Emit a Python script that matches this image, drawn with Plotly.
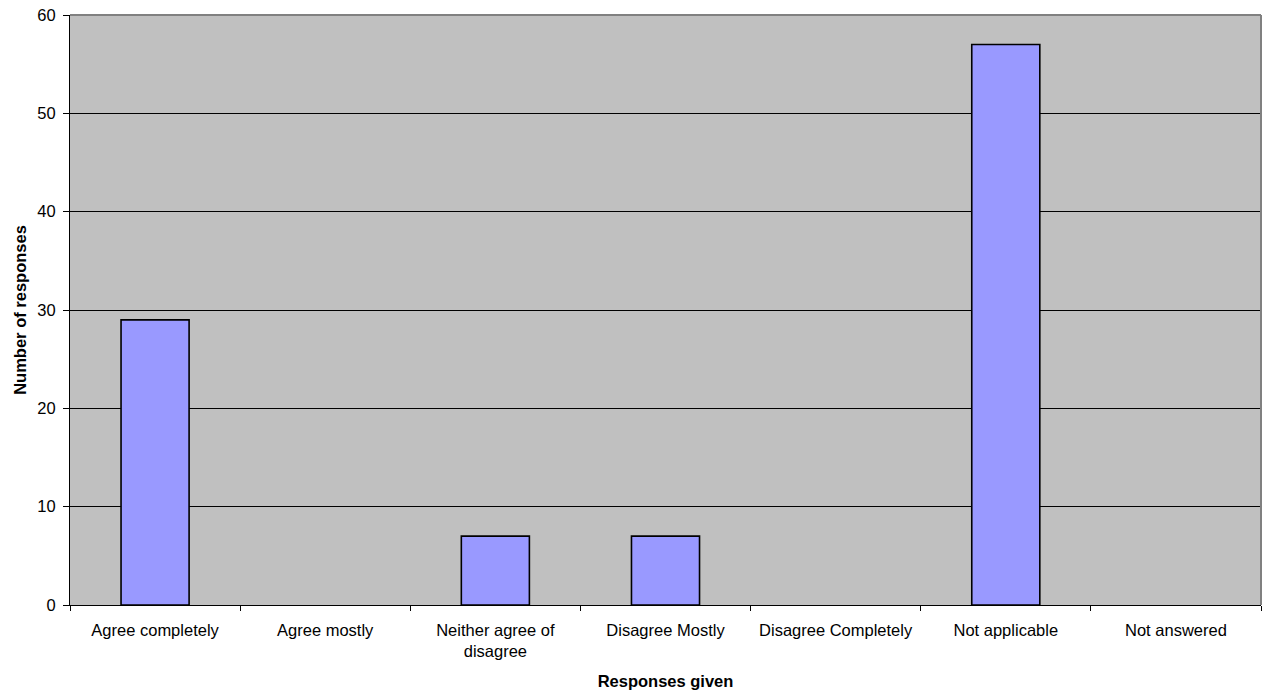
import plotly.graph_objects as go

categories = ["Agree completely", "Agree mostly", "Neither agree of<br>disagree",
              "Disagree Mostly", "Disagree Completely", "Not applicable", "Not answered"]
responses = [29, 0, 7, 7, 0, 57, 0]
y_ticks = [0, 10, 20, 30, 40, 50, 60]

FONT = "Liberation Sans, Arial, sans-serif"

# empty categories get no outline so they leave no mark on the baseline
outline_widths = [1.6 if v > 0 else 0 for v in responses]

fig = go.Figure(
    go.Bar(
        x=categories,
        y=responses,
        width=0.4,
        marker=dict(color="#9999FF", line=dict(color="black", width=outline_widths)),
    )
)

fig.update_layout(
    width=1267,
    height=693,
    margin=dict(l=70, r=6, t=15, b=88),
    paper_bgcolor="white",
    plot_bgcolor="#C0C0C0",
    font=dict(family=FONT, size=16.5, color="black"),
    showlegend=False,
    bargap=0.6,
)

fig.update_xaxes(
    type="category",
    showline=True,
    linecolor="black",
    linewidth=1,
    ticks="outside",
    tickson="boundaries",
    ticklen=5,
    tickcolor="black",
    showgrid=False,
    ticklabelstandoff=10,
    title=dict(text="<b>Responses given</b>", standoff=16, font=dict(size=16.5)),
)

fig.update_yaxes(
    range=[0, 60],
    tickvals=y_ticks,
    showline=True,
    linecolor="black",
    linewidth=1,
    ticks="outside",
    ticklen=6,
    tickcolor="black",
    showgrid=True,
    gridcolor="black",
    gridwidth=1,
    zeroline=False,
    ticklabelstandoff=4,
    title=dict(text="<b>Number of responses</b>", standoff=6, font=dict(size=16.5)),
)

# grey frame along top and right of the plotting area
fig.add_shape(type="line", xref="paper", yref="paper", x0=0, x1=1, y0=1, y1=1,
              line=dict(color="#808080", width=2))
fig.add_shape(type="line", xref="paper", yref="paper", x0=1, x1=1, y0=0, y1=1,
              line=dict(color="#808080", width=2))

fig.write_html("out.html")
